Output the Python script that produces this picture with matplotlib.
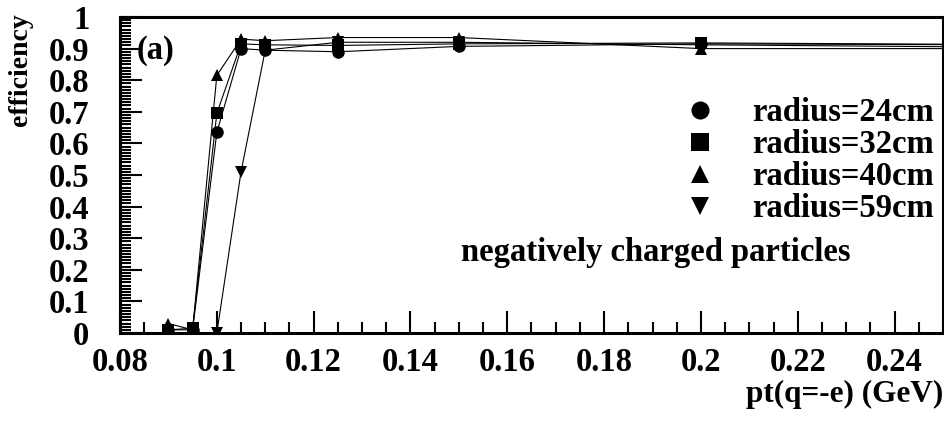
import matplotlib
matplotlib.use("Agg")
import matplotlib.pyplot as plt
from matplotlib.lines import Line2D
from matplotlib.ticker import MultipleLocator, FuncFormatter

plt.rcParams['font.family'] = ['Liberation Serif', 'DejaVu Serif']
plt.rcParams['font.weight'] = 'bold'

# pt values (GeV); last point lies beyond the axis range
pt = [0.09, 0.095, 0.1, 0.105, 0.11, 0.125, 0.15, 0.2, 0.3]

# efficiency per radius
eff_r24 = [0.01, 0.01, 0.635, 0.90, 0.895, 0.89, 0.907, 0.915, 0.91]
eff_r32 = [0.01, 0.015, 0.695, 0.915, 0.912, 0.91, 0.915, 0.918, 0.91]
eff_r40 = [0.03, 0.01, 0.815, 0.93, 0.925, 0.935, 0.935, 0.90, 0.90]
eff_r59 = [0.0, 0.0, 0.0, 0.51, 0.895, 0.92, 0.92, 0.912, 0.90]

labels = ["radius=24cm", "radius=32cm", "radius=40cm", "radius=59cm"]
markers = ['o', 's', '^', 'v']
msizes = [9, 8, 9, 9]

FS = 23.5

fig = plt.figure(figsize=(9.45, 4.23), dpi=100)
ax = fig.add_axes([120 / 945, 90 / 423, 823 / 945, 316 / 423])

for eff, m, ms in zip([eff_r24, eff_r32, eff_r40, eff_r59], markers, msizes):
    ax.plot(pt, eff, color='black', lw=0.8, marker=m, ms=ms, mew=0)

ax.set_xlim(0.08, 0.25)
ax.set_ylim(0, 1)

# ROOT-like axis: ticks inside, bottom/left only
ax.xaxis.set_major_locator(MultipleLocator(0.02))
ax.xaxis.set_minor_locator(MultipleLocator(0.005))
ax.yaxis.set_major_locator(MultipleLocator(0.1))
ax.yaxis.set_minor_locator(MultipleLocator(0.01))
fmt = FuncFormatter(lambda v, p: "%g" % round(v, 3))
ax.xaxis.set_major_formatter(fmt)
ax.yaxis.set_major_formatter(fmt)
ax.tick_params(which='both', direction='in', top=False, right=False, width=1.5, labelsize=FS)
ax.tick_params(which='major', length=16)
ax.tick_params(which='minor', length=8)
ax.tick_params(axis='x', pad=10)
ax.tick_params(axis='y', pad=22)
for s in ax.spines.values():
    s.set_linewidth(2.2)
    s.set_zorder(5)

handles = [Line2D([], [], color='black', marker=m, ms=13, ls='none', mew=0) for m in markers]
ax.legend(handles, labels, loc='upper left', bbox_to_anchor=(684 / 945, 1 - 97 / 423),
          bbox_transform=fig.transFigure, frameon=False, fontsize=FS, handlelength=1.0,
          handletextpad=1.09, labelspacing=0.03, borderpad=0, borderaxespad=0)

fig.text(656 / 945, 1 - 253 / 423, "negatively charged particles", fontsize=FS,
         ha='center', va='center')
fig.text(137 / 945, 1 - 50 / 423, "(a)", fontsize=FS, ha='left', va='center')
fig.text(21 / 945, 1 - 13 / 423, "efficiency", fontsize=20, rotation=90, ha='center', va='top')
fig.text(943 / 945, 1 - 394 / 423, "pt(q=-e) (GeV)", fontsize=22.5, ha='right', va='center')

fig.savefig("out.png", dpi=100)
